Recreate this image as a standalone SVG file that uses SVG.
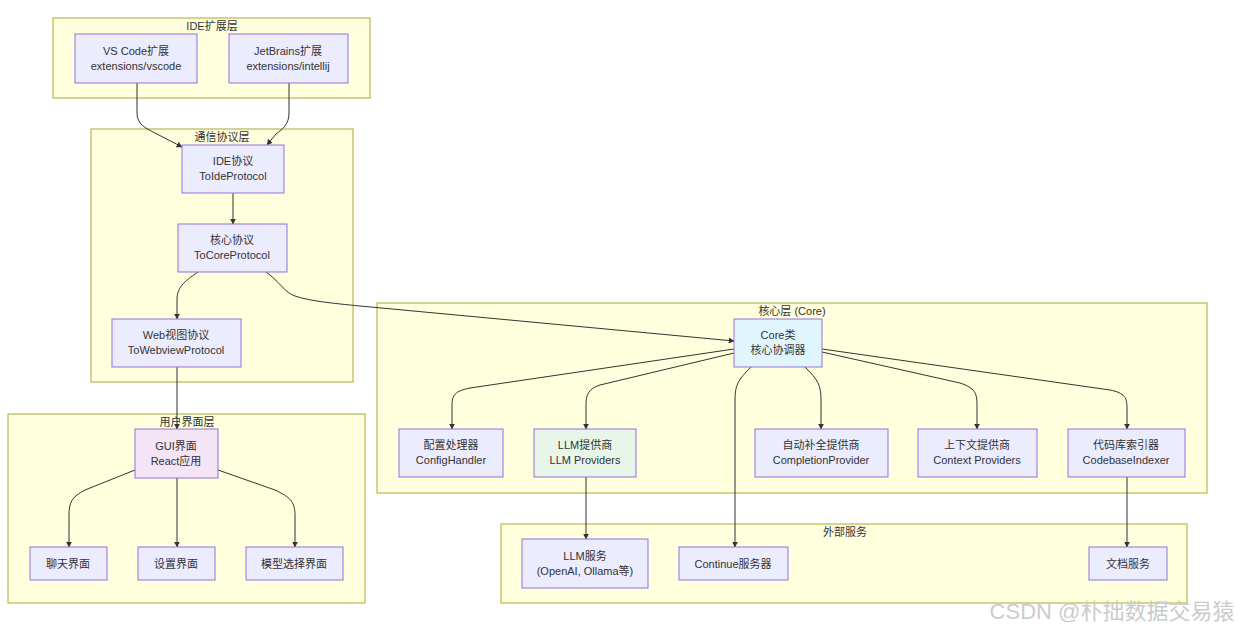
<svg xmlns="http://www.w3.org/2000/svg" width="1246" height="630" viewBox="0 0 1246 630">
<defs>
<marker id="arr" viewBox="0 0 10 10" refX="9" refY="5" markerWidth="6" markerHeight="6" orient="auto" markerUnits="userSpaceOnUse">
<path d="M0,0 L10,5 L0,10 z" fill="#333"/>
</marker>
<style>
.cl{fill:#ffffde;stroke:#aaaa33;stroke-width:1}
.nd{fill:#ececff;stroke:#9370db;stroke-width:1}
.t{font-family:"Liberation Sans","Noto Sans CJK SC",sans-serif;font-size:11px;fill:#333;text-anchor:middle}
.e{fill:none;stroke:#333;stroke-width:1;marker-end:url(#arr)}
</style>
</defs>
<rect width="1246" height="630" fill="#fff"/>
<g id="clusters">
<g id="c-ide"><rect class="cl" x="53" y="18" width="317" height="80"/><text class="t" x="212" y="30">IDE扩展层</text></g>
<g id="c-proto"><rect class="cl" x="91" y="129" width="262" height="253"/><text class="t" x="222" y="141">通信协议层</text></g>
<g id="c-ui"><rect class="cl" x="8" y="414" width="357" height="189"/><text class="t" x="187" y="426">用户界面层</text></g>
<g id="c-core"><rect class="cl" x="377" y="303" width="830" height="190"/><text class="t" x="792" y="315">核心层 (Core)</text></g>
<g id="c-ext"><rect class="cl" x="501" y="524" width="686" height="79"/><text class="t" x="845" y="536">外部服务</text></g>
</g>
<g id="edges">
<path class="e" d="M137,83 L137,113 C137,124 145,128 155,133 L182,147"/>
<path class="e" d="M289,83 L289,113 C289,124 283,129 276,134 L267,145"/>
<path class="e" d="M233,193 L233,224"/>
<path class="e" d="M198,272 C183,282 177,288 177,300 L177,319"/>
<path class="e" d="M266,272 C280,282 285,293 295,296 C310,301 330,303 360,306 L734,341"/>
<path class="e" d="M177,367 L177,429"/>
<path class="e" d="M135,470 L85,490 C72,497 69,502 69,515 L69,547"/>
<path class="e" d="M177,478 L177,547"/>
<path class="e" d="M218,470 L275,490 C290,497 295,502 295,515 L295,547"/>
<path class="e" d="M734,349 L470,388 C455,391 452,395 452,405 L452,429"/>
<path class="e" d="M734,353 L600,385 C588,389 586,395 586,405 L586,429"/>
<path class="e" d="M751,367 C738,380 735,385 735,400 L735,547"/>
<path class="e" d="M805,367 C818,380 821,385 821,400 L821,429"/>
<path class="e" d="M822,352 L960,383 C975,388 977,393 977,405 L977,429"/>
<path class="e" d="M822,349 L1110,390 C1125,393 1127,398 1127,408 L1127,429"/>
<path class="e" d="M586,477 L586,539"/>
<path class="e" d="M1127,477 L1127,547"/>
</g>
<g id="n-vscode"><rect class="nd" x="75" y="34" width="122" height="49"/><text class="t" x="136" y="55">VS Code扩展</text><text class="t" x="136" y="70">extensions/vscode</text></g>
<g id="n-jetbrains"><rect class="nd" x="229" y="34" width="119" height="49"/><text class="t" x="288" y="55">JetBrains扩展</text><text class="t" x="288" y="70">extensions/intellij</text></g>
<g id="n-ideproto"><rect class="nd" x="182" y="145" width="102" height="48"/><text class="t" x="233" y="165">IDE协议</text><text class="t" x="233" y="180">ToIdeProtocol</text></g>
<g id="n-coreproto"><rect class="nd" x="178" y="224" width="109" height="48"/><text class="t" x="232" y="244">核心协议</text><text class="t" x="232" y="259">ToCoreProtocol</text></g>
<g id="n-webproto"><rect class="nd" x="112" y="319" width="129" height="48"/><text class="t" x="176" y="339">Web视图协议</text><text class="t" x="176" y="354">ToWebviewProtocol</text></g>
<g id="n-gui"><rect class="nd" x="135" y="429" width="83" height="49" style="fill:#f3e5f5"/><text class="t" x="176" y="450">GUI界面</text><text class="t" x="176" y="465">React应用</text></g>
<g id="n-chat"><rect class="nd" x="30" y="547" width="77" height="33"/><text class="t" x="68" y="568">聊天界面</text></g>
<g id="n-settings"><rect class="nd" x="138" y="547" width="77" height="33"/><text class="t" x="176" y="568">设置界面</text></g>
<g id="n-model"><rect class="nd" x="246" y="547" width="97" height="33"/><text class="t" x="294" y="568">模型选择界面</text></g>
<g id="n-core"><rect class="nd" x="734" y="319" width="88" height="48" style="fill:#e1f5fe"/><text class="t" x="778" y="339">Core类</text><text class="t" x="778" y="354">核心协调器</text></g>
<g id="n-config"><rect class="nd" x="399" y="429" width="104" height="48"/><text class="t" x="451" y="449">配置处理器</text><text class="t" x="451" y="464">ConfigHandler</text></g>
<g id="n-llmprov"><rect class="nd" x="534" y="429" width="102" height="48" style="fill:#e8f5e9"/><text class="t" x="585" y="449">LLM提供商</text><text class="t" x="585" y="464">LLM Providers</text></g>
<g id="n-completion"><rect class="nd" x="755" y="429" width="133" height="48"/><text class="t" x="821" y="449">自动补全提供商</text><text class="t" x="821" y="464">CompletionProvider</text></g>
<g id="n-context"><rect class="nd" x="918" y="429" width="119" height="48"/><text class="t" x="977" y="449">上下文提供商</text><text class="t" x="977" y="464">Context Providers</text></g>
<g id="n-indexer"><rect class="nd" x="1068" y="429" width="117" height="48"/><text class="t" x="1126" y="449">代码库索引器</text><text class="t" x="1126" y="464">CodebaseIndexer</text></g>
<g id="n-llmsvc"><rect class="nd" x="522" y="539" width="126" height="49"/><text class="t" x="585" y="560">LLM服务</text><text class="t" x="585" y="575">(OpenAI, Ollama等)</text></g>
<g id="n-continue"><rect class="nd" x="679" y="547" width="109" height="33"/><text class="t" x="733" y="568">Continue服务器</text></g>
<g id="n-docs"><rect class="nd" x="1089" y="547" width="78" height="33"/><text class="t" x="1128" y="568">文档服务</text></g>
<text x="1112" y="619" style="font-family:'Liberation Sans','Noto Sans CJK SC',sans-serif;font-size:22px;fill:#cccccc;text-anchor:middle">CSDN @朴拙数据交易猿</text>
</svg>
